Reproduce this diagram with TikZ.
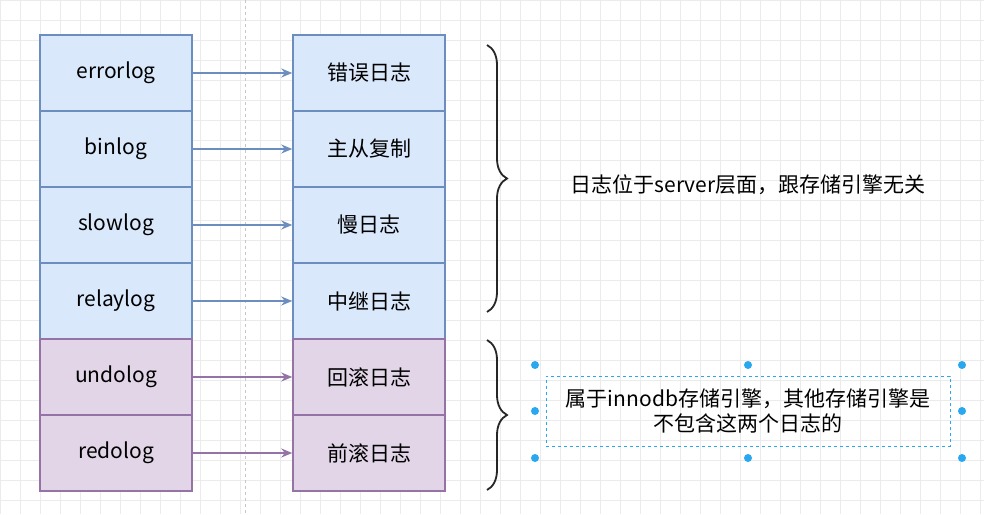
\documentclass[tikz,border=0pt]{standalone}
\usepackage{fontspec}
\setmainfont{Noto Sans CJK SC}
\usetikzlibrary{decorations.pathreplacing,arrows.meta}
\definecolor{bfill}{HTML}{DAE8FC}\definecolor{bdraw}{HTML}{6C8EBF}
\definecolor{pfill}{HTML}{E1D5E7}\definecolor{pdraw}{HTML}{9673A6}
\definecolor{hand}{HTML}{29A8F0}
\begin{document}
\begin{tikzpicture}[x=1pt,y=-1pt,
 box/.style={draw=#1draw,fill=#1fill,line width=1.5pt,minimum width=152pt,minimum height=76pt,inner sep=0pt,font=\fontsize{21}{25}\selectfont},
 arr/.style={-{Stealth[length=11pt,width=9pt]},draw=#1draw,line width=1.6pt},
 br/.style={decorate,decoration={brace,amplitude=20pt},line width=1.8pt,draw=black!85},
 dot/.style={circle,fill=hand,inner sep=0pt,minimum size=8pt}]
\useasboundingbox (0,0) rectangle (984,514);
\fill[white] (0,0) rectangle (984,514);
\foreach \x in {0,20,...,980} \draw[black!8] (\x,0)--(\x,514);
\foreach \y in {0,20,...,500} \draw[black!8] (0,\y)--(984,\y);
\draw[black!22,dashed] (245,0)--(245,514);
\foreach \n/\l/\r/\c [count=\i] in {a/errorlog/错误日志/b,b/binlog/主从复制/b,c/slowlog/慢日志/b,d/relaylog/中继日志/b,e/undolog/回滚日志/p,f/redolog/前滚日志/p}{
 \node[box=\c] (L\n) at (116,{35+76*(\i-1)+38}) {\l};
 \node[box=\c] (R\n) at (369,{35+76*(\i-1)+38}) {\r};
 \draw[arr=\c] (L\n) -- (R\n);
}
\coordinate (b1a) at (487,45); \coordinate (b1b) at (487,312);
\coordinate (b2a) at (487,340); \coordinate (b2b) at (487,490);
\draw[br] (b1a) -- (b1b);
\draw[br] (b2a) -- (b2b);
\node[font=\fontsize{21}{25}\selectfont] (t1) at (748,185) {日志位于server层面，跟存储引擎无关};
\node[draw=hand,dashed,minimum width=404pt,minimum height=70pt,align=center,font=\fontsize{21}{25}\selectfont] (t2) at (748,411) {属于innodb存储引擎，其他存储引擎是\\不包含这两个日志的};
\foreach \x in {535,748,962} \foreach \y in {365,411,458} {\ifnum\x=748 \ifnum\y=411 \else \node[dot] at (\x,\y) {};\fi\else\node[dot] at (\x,\y) {};\fi}
\end{tikzpicture}
\end{document}
